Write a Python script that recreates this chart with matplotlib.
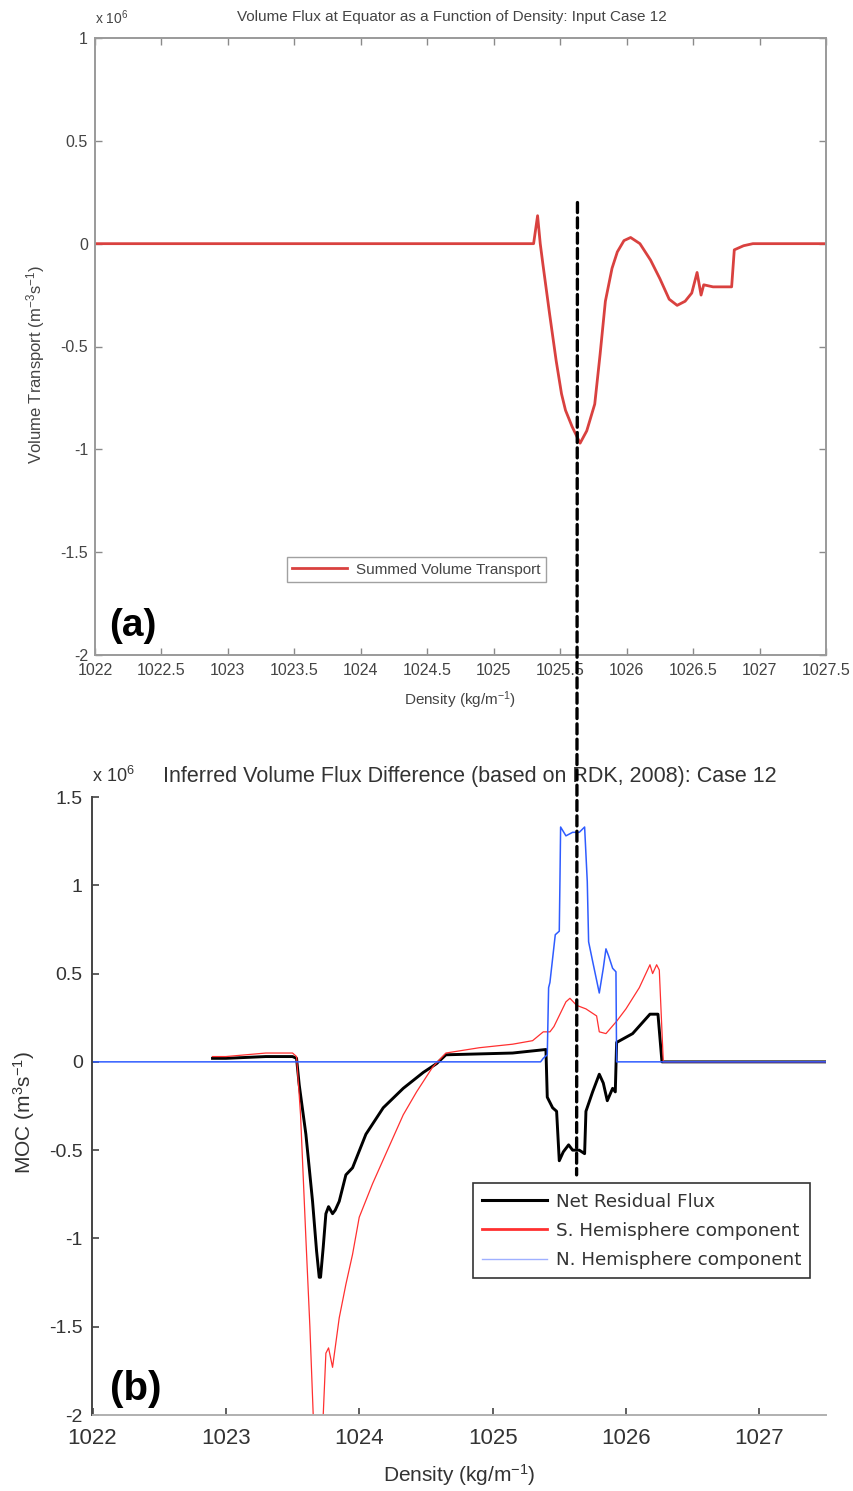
import matplotlib
matplotlib.use("Agg")
import matplotlib.pyplot as plt
from matplotlib.lines import Line2D
from matplotlib.patches import ConnectionPatch

plt.rcParams['font.family'] = ['Liberation Sans', 'DejaVu Sans']
plt.rcParams['mathtext.fontset'] = 'custom'
plt.rcParams['mathtext.rm'] = 'Liberation Sans'
plt.rcParams['mathtext.it'] = 'Liberation Sans:italic'
plt.rcParams['mathtext.bf'] = 'Liberation Sans:bold'

# ---------------- data (transport in units of 10^6 m^3/s) ----------------
top_density = [1022.0, 1025.30, 1025.33, 1025.35, 1025.37, 1025.42, 1025.47, 1025.51,
               1025.54, 1025.59, 1025.65, 1025.70, 1025.76, 1025.80, 1025.84, 1025.89,
               1025.93, 1025.98, 1026.03, 1026.10, 1026.18, 1026.25, 1026.32, 1026.38,
               1026.44, 1026.49, 1026.53, 1026.56, 1026.58, 1026.65, 1026.79, 1026.81,
               1026.88, 1026.95, 1027.5]
top_transport = [0.0, 0.0, 0.136, 0.0, -0.10, -0.34, -0.57, -0.73,
                 -0.81, -0.89, -0.97, -0.91, -0.78, -0.54, -0.28, -0.12,
                 -0.04, 0.015, 0.03, 0.0, -0.08, -0.17, -0.27, -0.30,
                 -0.28, -0.24, -0.14, -0.25, -0.20, -0.21, -0.21, -0.03,
                 -0.01, 0.0, 0.0]

net_density = [1022.9, 1023.0, 1023.3, 1023.5, 1023.53, 1023.55, 1023.60, 1023.65,
               1023.68, 1023.70, 1023.71, 1023.73, 1023.75, 1023.77, 1023.80, 1023.82,
               1023.85, 1023.90, 1023.95, 1024.05, 1024.18, 1024.33, 1024.48, 1024.58,
               1024.65, 1024.90, 1025.15, 1025.40, 1025.41, 1025.45, 1025.48, 1025.50,
               1025.53, 1025.57, 1025.60, 1025.65, 1025.69, 1025.70, 1025.75, 1025.80,
               1025.83, 1025.86, 1025.90, 1025.92, 1025.93, 1026.05, 1026.18, 1026.24,
               1026.27, 1027.5]
net_flux = [0.02, 0.02, 0.03, 0.03, 0.02, -0.13, -0.41, -0.79,
            -1.07, -1.22, -1.22, -1.05, -0.86, -0.82, -0.86, -0.84,
            -0.79, -0.64, -0.60, -0.41, -0.26, -0.15, -0.06, -0.01,
            0.04, 0.045, 0.05, 0.07, -0.20, -0.26, -0.28, -0.56,
            -0.51, -0.47, -0.50, -0.50, -0.52, -0.28, -0.17, -0.07,
            -0.12, -0.22, -0.15, -0.17, 0.11, 0.16, 0.27, 0.27,
            0.0, 0.0]

south_density = [1022.9, 1023.0, 1023.3, 1023.5, 1023.53, 1023.56, 1023.60, 1023.63,
                 1023.66, 1023.70, 1023.73, 1023.75, 1023.77, 1023.80, 1023.85, 1023.90,
                 1023.95, 1024.00, 1024.10, 1024.20, 1024.33, 1024.43, 1024.55, 1024.65,
                 1024.90, 1025.15, 1025.30, 1025.38, 1025.43, 1025.46, 1025.55, 1025.58,
                 1025.63, 1025.70, 1025.78, 1025.80, 1025.85, 1025.93, 1026.00, 1026.10,
                 1026.18, 1026.20, 1026.23, 1026.25, 1026.28, 1027.5]
south_flux = [0.03, 0.03, 0.05, 0.05, 0.03, -0.30, -1.00, -1.50,
              -2.10, -2.30, -2.00, -1.65, -1.62, -1.73, -1.45, -1.26,
              -1.09, -0.88, -0.69, -0.52, -0.30, -0.17, -0.03, 0.05,
              0.08, 0.10, 0.12, 0.17, 0.17, 0.20, 0.34, 0.36,
              0.32, 0.30, 0.26, 0.17, 0.16, 0.23, 0.30, 0.42,
              0.55, 0.50, 0.55, 0.52, 0.0, 0.0]

north_density = [1022.0, 1025.36, 1025.38, 1025.41, 1025.42, 1025.43, 1025.47, 1025.50,
                 1025.505, 1025.51, 1025.55, 1025.60, 1025.65, 1025.69, 1025.71, 1025.72,
                 1025.75, 1025.80, 1025.83, 1025.85, 1025.87, 1025.90, 1025.925, 1025.93,
                 1027.5]
north_flux = [0.0, 0.0, 0.02, 0.04, 0.42, 0.45, 0.72, 0.74,
              1.02, 1.33, 1.28, 1.30, 1.30, 1.33, 1.02, 0.68,
              0.57, 0.39, 0.53, 0.64, 0.60, 0.53, 0.51, 0.0,
              0.0]

top_xticks = [1022, 1022.5, 1023, 1023.5, 1024, 1024.5, 1025, 1025.5, 1026, 1026.5, 1027, 1027.5]
top_yticks = [-2, -1.5, -1, -0.5, 0, 0.5, 1]
bot_xticks = [1022, 1023, 1024, 1025, 1026, 1027]
bot_yticks = [-2, -1.5, -1, -0.5, 0, 0.5, 1, 1.5]
marker_density = 1025.63


def fmt(v):
    return '%g' % v


W, H = 854, 1491
fig = plt.figure(figsize=(W / 100, H / 100), dpi=100)

# ---------------- top panel ----------------
ax1 = fig.add_axes([95 / W, 1 - 655 / H, 731 / W, 617 / H])
ax1.plot(top_density, top_transport, color='#d9413f', lw=2.0, label='Summed Volume Transport')
ax1.set_xlim(1022, 1027.5)
ax1.set_ylim(-2, 1)
ax1.set_xticks(top_xticks)
ax1.set_xticklabels([fmt(v) for v in top_xticks])
ax1.set_yticks(top_yticks)
ax1.set_yticklabels([fmt(v) for v in top_yticks])
for s in ax1.spines.values():
    s.set_color('#9a9a9a')
    s.set_linewidth(1.4)
ax1.tick_params(direction='in', top=True, right=True, length=5, width=1,
                color='#8a8a8a', labelsize=11.5, labelcolor='#444444')
ax1.tick_params(axis='x', pad=6)
ax1.tick_params(axis='y', pad=5)
ax1.set_xlabel('Density (kg/m$^{-1}$)', fontsize=11, color='#444444', labelpad=8)
ax1.set_ylabel('Volume Transport (m$^{-3}$s$^{-1}$)', fontsize=12, color='#444444')
ax1.yaxis.set_label_coords(-0.066, 0.47)
leg1 = ax1.legend(loc='lower left', bbox_to_anchor=(0.262, 0.118), fontsize=11,
                  frameon=True, fancybox=False, edgecolor='#8a8a8a', handlelength=3.6,
                  borderpad=0.35, handletextpad=0.6, borderaxespad=0)
leg1.get_frame().set_linewidth(1.0)
for t in leg1.get_texts():
    t.set_color('#444444')
ax1.text(0.02, 0.03, '(a)', transform=ax1.transAxes, fontsize=28, fontweight='bold',
         ha='left', va='baseline', color='black')
fig.text(452 / W, 1 - 17 / H, 'Volume Flux at Equator as a Function of Density: Input Case 12',
         ha='center', va='center', fontsize=11, color='#444444')
fig.text(95 / W, 1 - 24 / H, 'x 10$^6$', ha='left', va='baseline', fontsize=10, color='#444444')

# ---------------- bottom panel ----------------
ax2 = fig.add_axes([92.5 / W, 1 - 1415 / H, 733.5 / W, 618 / H])
ax2.plot(net_density, net_flux, color='black', lw=2.1, label='Net Residual Flux')
ax2.plot(south_density, south_flux, color='#ff3030', lw=0.9, label='S. Hemisphere component')
ax2.plot(north_density, north_flux, color='#2f5cff', lw=1.1, label='N. Hemisphere component')
ax2.set_xlim(1022, 1027.5)
ax2.set_ylim(-2, 1.5)
ax2.set_xticks(bot_xticks)
ax2.set_xticklabels([fmt(v) for v in bot_xticks])
ax2.set_yticks(bot_yticks)
ax2.set_yticklabels([fmt(v) for v in bot_yticks])
ax2.spines['top'].set_visible(False)
ax2.spines['right'].set_visible(False)
ax2.spines['left'].set_color('#444444')
ax2.spines['left'].set_linewidth(1.4)
ax2.spines['bottom'].set_color('#b0b0b0')
ax2.spines['bottom'].set_linewidth(1.4)
ax2.tick_params(direction='in', length=5, width=1.2, color='#444444', labelcolor='#333333')
ax2.tick_params(axis='x', labelsize=16, pad=9)
ax2.tick_params(axis='y', labelsize=14, pad=7)
for lab in ax2.get_xticklabels() + ax2.get_yticklabels():
    lab.set_family(['Liberation Sans Narrow', 'Liberation Sans'])
ax2.set_xlabel('Density (kg/m$^{-1}$)', fontsize=15, color='#333333', labelpad=10,
               family=['Liberation Sans Narrow', 'Liberation Sans'])
ax2.set_ylabel('MOC (m$^3$s$^{-1}$)', fontsize=15, color='#333333')
ax2.yaxis.set_label_coords(-0.075, 0.49)
handles = [Line2D([], [], color='black', lw=2.2),
           Line2D([], [], color='#ff3030', lw=2.0),
           Line2D([], [], color='#9fb0ff', lw=1.0)]
labels = ['Net Residual Flux', 'S. Hemisphere component', 'N. Hemisphere component']
leg2 = ax2.legend(handles, labels, loc='lower left', bbox_to_anchor=(0.519, 0.221),
                  frameon=True, fancybox=False, edgecolor='black',
                  handlelength=3.5, borderpad=0.5, labelspacing=0.62,
                  handletextpad=0.5, borderaxespad=0, prop={'family': 'DejaVu Sans', 'size': 13.2})
leg2.get_frame().set_linewidth(1.2)
for t in leg2.get_texts():
    t.set_color('#333333')
ax2.text(0.024, 0.024, '(b)', transform=ax2.transAxes, fontsize=29, fontweight='bold',
         ha='left', va='baseline', color='black')
fig.text(163 / W, 1 - 782 / H, 'Inferred Volume Flux Difference (based on RDK, 2008): Case 12',
         ha='left', va='baseline', fontsize=15.5, color='#333333',
         family=['Liberation Sans Narrow', 'Liberation Sans'])
fig.text(92 / W, 1 - 782 / H, 'x 10$^6$', ha='left', va='baseline', fontsize=13, color='#333333')

# ---------------- dashed connector spanning both panels ----------------
con = ConnectionPatch(xyA=(marker_density, 0.2), coordsA=ax1.transData,
                      xyB=(marker_density, -0.64), coordsB=ax2.transData,
                      color='black', lw=2.4, linestyle=(0, (3, 1.6)), zorder=10)
con.set_clip_on(False)
fig.add_artist(con)

fig.savefig('out.png', dpi=100)
